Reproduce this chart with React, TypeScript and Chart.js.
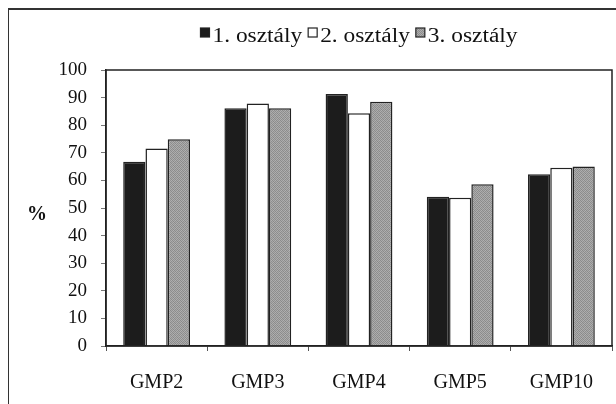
import { useEffect, useRef } from "react";
import { Chart, registerables } from "chart.js";

Chart.register(...registerables);

// Categories and per-class percentages
const categories = ["GMP2", "GMP3", "GMP4", "GMP5", "GMP10"];
const seriesLabels = ["1. osztály", "2. osztály", "3. osztály"];
const class1 = [66.8, 86.1, 91.3, 54.1, 62.2];
const class2 = [71.6, 87.9, 84.3, 53.7, 64.6];
const class3 = [74.9, 86.1, 88.5, 58.6, 65.0];
const yMin = 0;
const yMax = 100;
const yStep = 10;
const yAxisTitle = "%";

const FONT = "'Liberation Serif', 'Times New Roman', serif";
const INK = "#222";

function makeStipple(): CanvasPattern | string {
  const c = document.createElement("canvas");
  c.width = 4;
  c.height = 4;
  const g = c.getContext("2d");
  if (!g) return "#9a9a9a";
  const shades = [
    ["#8c8c8c", "#ababab", "#939393", "#b0b0b0"],
    ["#aaaaaa", "#888888", "#adadad", "#8f8f8f"],
    ["#919191", "#b2b2b2", "#8a8a8a", "#a8a8a8"],
    ["#afafaf", "#8e8e8e", "#a9a9a9", "#8b8b8b"],
  ];
  for (let y = 0; y < 4; y++)
    for (let x = 0; x < 4; x++) {
      g.fillStyle = shades[y][x];
      g.fillRect(x, y, 1, 1);
    }
  return g.createPattern(c, "repeat") ?? "#9a9a9a";
}

export default function App() {
  const ref = useRef<HTMLCanvasElement | null>(null);

  useEffect(() => {
    const canvas = ref.current;
    if (!canvas) return;
    const stipple = makeStipple();
    const fills: (string | CanvasPattern)[] = ["#1c1c1c", "#ffffff", stipple];

    // Frame, plot box, unrotated axis title and compact legend
    const decorations = {
      id: "decorations",
      beforeDraw(chart: Chart) {
        const ctx = chart.ctx;
        ctx.save();
        ctx.fillStyle = "#fff";
        ctx.fillRect(0, 0, chart.width, chart.height);
        ctx.strokeStyle = "#333";
        ctx.lineWidth = 2;
        ctx.beginPath();
        ctx.moveTo(0, chart.height);
        ctx.lineTo(0, 1);
        ctx.lineTo(chart.width, 1);
        ctx.stroke();
        ctx.restore();
      },
      afterDraw(chart: Chart) {
        const ctx = chart.ctx;
        const a = chart.chartArea;
        ctx.save();
        ctx.strokeStyle = INK;
        ctx.lineWidth = 1.5;
        ctx.strokeRect(a.left, a.top, a.right - a.left, a.bottom - a.top);

        // y-axis title
        ctx.fillStyle = "#111";
        ctx.font = `bold 20px ${FONT}`;
        ctx.textAlign = "center";
        ctx.textBaseline = "middle";
        ctx.fillText(yAxisTitle, 29, (a.top + a.bottom) / 2 + 7);

        // legend, slightly widened type
        ctx.font = `20px ${FONT}`;
        ctx.textAlign = "left";
        ctx.textBaseline = "alphabetic";
        const sx = 1.17;
        const box = 9;
        const gapText = 3;
        const gapItem = 6;
        const widths = seriesLabels.map((t) => ctx.measureText(t).width * sx);
        const total =
          widths.reduce((s, w) => s + box + gapText + w, 0) + gapItem * (seriesLabels.length - 1);
        let x = (a.left + a.right) / 2 - total / 2;
        const baseline = 34;
        seriesLabels.forEach((t, i) => {
          ctx.fillStyle = fills[i] as any;
          ctx.fillRect(x, baseline - 14, box, box);
          ctx.strokeStyle = INK;
          ctx.lineWidth = 1.2;
          ctx.strokeRect(x, baseline - 14, box, box);
          ctx.fillStyle = "#111";
          ctx.save();
          ctx.translate(x + box + gapText, baseline);
          ctx.scale(sx, 1);
          ctx.fillText(t, 0, 0);
          ctx.restore();
          x += box + gapText + widths[i] + gapItem;
        });
        ctx.restore();
      },
    };

    const chart = new Chart(canvas, {
      type: "bar",
      data: {
        labels: categories,
        datasets: [class1, class2, class3].map((d, i) => ({
          label: seriesLabels[i],
          data: d,
          backgroundColor: fills[i] as any,
          borderColor: INK,
          borderWidth: 1.5,
          borderSkipped: "bottom" as const,
          categoryPercentage: 0.66,
          barPercentage: 1,
        })),
      },
      options: {
        responsive: false,
        animation: false,
        layout: { padding: { top: 62, right: 4, left: 0, bottom: 0 } },
        plugins: {
          legend: { display: false },
          tooltip: { enabled: false },
        },
        scales: {
          x: {
            grid: {
              offset: true,
              drawOnChartArea: false,
              drawTicks: true,
              tickLength: 5,
              color: "#555",
            },
            border: { display: true, color: INK, width: 1.5 },
            ticks: {
              color: "#111",
              font: { family: FONT, size: 20 },
              padding: 20,
              maxRotation: 0,
            },
            afterFit(scale: any) {
              scale.height = 58;
            },
          },
          y: {
            min: yMin,
            max: yMax,
            grid: {
              drawOnChartArea: false,
              drawTicks: true,
              tickLength: 5,
              color: "#777",
            },
            border: { display: true, color: INK, width: 1.5 },
            ticks: {
              stepSize: yStep,
              color: "#111",
              font: { family: FONT, size: 19 },
              padding: 14,
            },
            afterFit(scale: any) {
              scale.width = 98;
            },
          },
        },
      },
      plugins: [decorations],
    });

    return () => chart.destroy();
  }, []);

  return (
    <div style={{ position: "absolute", left: 8, top: 8, width: 608, height: 396, overflow: "hidden" }}>
      <canvas ref={ref} width={608} height={396} style={{ display: "block" }} />
    </div>
  );
}
